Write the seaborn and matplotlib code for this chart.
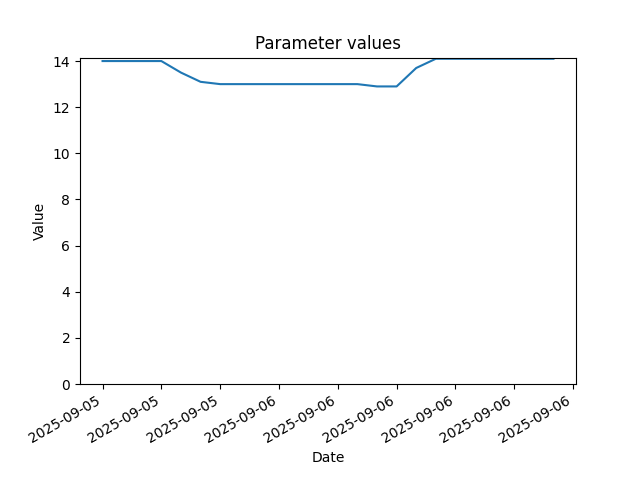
import pandas as pd
import seaborn as sns
import matplotlib
matplotlib.use("Agg")
import matplotlib.pyplot as plt
import matplotlib.dates as mdates

# hourly readings
dates = pd.date_range("2025-09-05 15:00", periods=24, freq="h")
values = [14.0, 14.0, 14.0, 14.0, 13.5, 13.1, 13.0, 13.0, 13.0, 13.0, 13.0, 13.0,
          13.0, 13.0, 12.9, 12.9, 13.7, 14.1, 14.1, 14.1, 14.1, 14.1, 14.1, 14.1]

df = pd.DataFrame({"Date": dates, "Value": values})

fig, ax = plt.subplots(figsize=(6.4, 4.8), dpi=100)
sns.lineplot(data=df, x="Date", y="Value", ax=ax)
ax.set_ylim(0, max(values) + 0.05)
ax.xaxis.set_major_formatter(mdates.DateFormatter("%Y-%m-%d"))
ax.set_title("Parameter values")
ax.set_xlabel("Date")
ax.set_ylabel("Value")
fig.autofmt_xdate()
fig.savefig("out.png")
